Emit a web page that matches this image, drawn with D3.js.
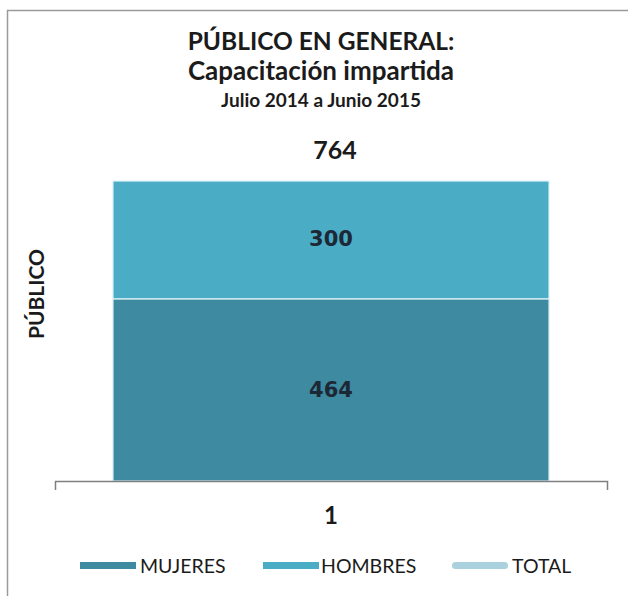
<!DOCTYPE html>
<html>
<head>
<meta charset="utf-8">
<script src="https://cdn.jsdelivr.net/npm/d3@7/dist/d3.min.js"></script>
<style>
  html, body { margin: 0; padding: 0; background: #fff; }
  svg { display: block; }
</style>
</head>
<body>
<svg id="chart" width="628" height="596"></svg>
<script>
// ---- data ----
const categories = ["1"];
const seriesNames = ["MUJERES", "HOMBRES", "TOTAL"];
const mujeres = [464];
const hombres = [300];
const total = [764];
const titleLines = ["PÚBLICO EN GENERAL:", "Capacitación impartida", "Julio 2014 a Junio 2015"];
const yAxisTitle = "PÚBLICO";

// ---- setup ----
const svg = d3.select("#chart");
const colors = { MUJERES: "#3e8ba1", HOMBRES: "#4bacc6", TOTAL: "#a9d1de" };
const textDark = "#1b1b1b";
const labelDark = "#1d2836";
const font = "Lato, 'Open Sans', sans-serif";

// frame (cropped screenshot border: left and top)
svg.append("line").attr("x1", 7.5).attr("x2", 7.5).attr("y1", 10).attr("y2", 596)
  .attr("stroke", "#9a9a9a").attr("stroke-width", 1.5);
svg.append("line").attr("x1", 7).attr("x2", 628).attr("y1", 10.5).attr("y2", 10.5)
  .attr("stroke", "#9a9a9a").attr("stroke-width", 1.5);

// scales
const x = d3.scaleBand().domain(categories).range([55, 607])
  .paddingInner(0.21).paddingOuter(0.105);
const y = d3.scaleLinear().domain([0, 764]).range([481, 181]);

const rows = categories.map((c, i) => ({ cat: c, MUJERES: mujeres[i], HOMBRES: hombres[i], TOTAL: total[i] }));
const stack = d3.stack().keys(["MUJERES", "HOMBRES"])(rows);

// bars
const g = svg.append("g");
stack.forEach(layer => {
  g.selectAll(null).data(layer).enter().append("rect")
    .attr("x", d => x(d.data.cat))
    .attr("width", x.bandwidth())
    .attr("y", d => y(d[1]))
    .attr("height", d => y(d[0]) - y(d[1]))
    .attr("fill", colors[layer.key])
    .attr("stroke", "#dff2f7")
    .attr("stroke-width", 1.2);
  // value labels inside segments
  g.selectAll(null).data(layer).enter().append("text")
    .attr("x", d => x(d.data.cat) + x.bandwidth() / 2)
    .attr("y", d => (y(d[0]) + y(d[1])) / 2 + (layer.key === "MUJERES" ? 0 : -1))
    .attr("dy", "0.36em")
    .attr("text-anchor", "middle")
    .attr("font-family", "'DejaVu Sans', Verdana, sans-serif")
    .attr("font-weight", "bold")
    .attr("font-size", 21)
    .attr("fill", labelDark)
    .text(d => d.data[layer.key]);
});

// total label above bar
g.selectAll(null).data(rows).enter().append("text")
  .attr("x", d => x(d.cat) + x.bandwidth() / 2 + 4)
  .attr("y", d => y(d.TOTAL) - 22)
  .attr("text-anchor", "middle")
  .attr("font-family", font)
  .attr("font-weight", "bold")
  .attr("font-size", 25)
  .attr("fill", textDark)
  .text(d => d.TOTAL);

// x axis
const xAxis = d3.axisBottom(x).tickSizeInner(0).tickSizeOuter(9).tickPadding(26);
const ax = svg.append("g").attr("transform", "translate(0,481)").call(xAxis);
ax.select(".domain").attr("stroke", "#7f7f7f").attr("stroke-width", 1.5);
ax.selectAll(".tick text")
  .attr("font-family", font)
  .attr("font-weight", "bold")
  .attr("font-size", 24)
  .attr("fill", textDark);

// y axis title
svg.append("text")
  .attr("transform", "translate(44,294) rotate(-90)")
  .attr("text-anchor", "middle")
  .attr("font-family", font)
  .attr("font-weight", "bold")
  .attr("font-size", 21)
  .attr("fill", textDark)
  .text(yAxisTitle);

// titles
const titleX = 321;
svg.append("text").attr("x", titleX).attr("y", 50).attr("text-anchor", "middle")
  .attr("font-family", font).attr("font-weight", "bold")
  .attr("font-size", 24.5).attr("fill", textDark).text(titleLines[0]);
svg.append("text").attr("x", titleX).attr("y", 80).attr("text-anchor", "middle")
  .attr("font-family", font).attr("font-weight", "bold")
  .attr("font-size", 26).attr("fill", textDark).text(titleLines[1]);
svg.append("text").attr("x", titleX).attr("y", 107).attr("text-anchor", "middle")
  .attr("font-family", font).attr("font-weight", "bold")
  .attr("font-size", 19).attr("fill", textDark).text(titleLines[2]);

// legend
const legendItems = [
  { name: seriesNames[0], sx: 80, tx: 140 },
  { name: seriesNames[1], sx: 263, tx: 321 },
  { name: seriesNames[2], sx: 452, tx: 512 }
];
const ly = 566;
const lg = svg.append("g");
legendItems.forEach(it => {
  lg.append("rect").attr("x", it.sx).attr("y", ly - 4).attr("width", 56).attr("height", 7)
    .attr("rx", it.name === "TOTAL" ? 3.5 : 0)
    .attr("fill", colors[it.name]);
  lg.append("text").attr("x", it.tx).attr("y", ly).attr("dy", "0.36em")
    .attr("font-family", font)
    .attr("font-size", 19.5).attr("fill", textDark).text(it.name);
});
</script>
</body>
</html>
